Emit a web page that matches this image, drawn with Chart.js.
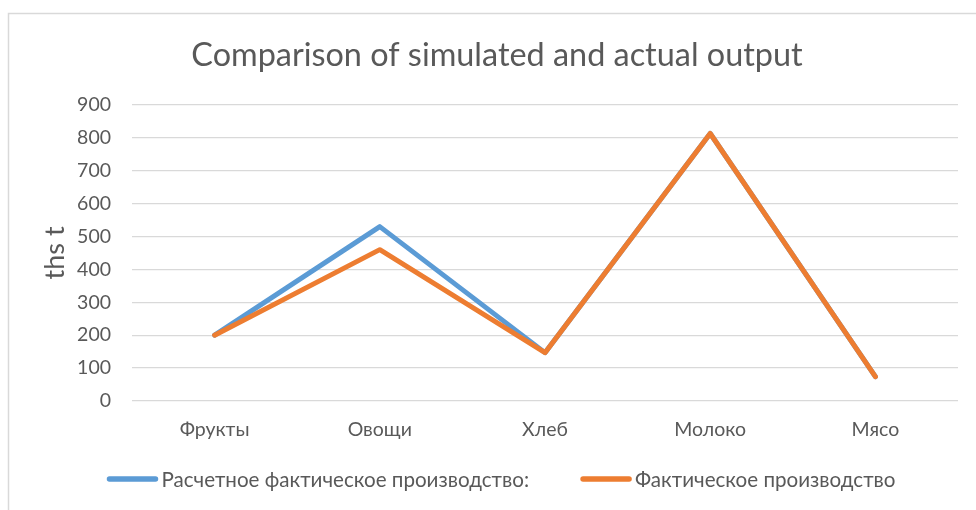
<!DOCTYPE html>
<html><head><meta charset="utf-8">
<script src="https://cdn.jsdelivr.net/npm/chart.js@4.4.1/dist/chart.umd.min.js"></script>
<style>html,body{margin:0;padding:0;background:#fff;overflow:hidden}</style>
</head><body>
<canvas id="c" width="976" height="510"></canvas>
<script>
// ---- data ----
const categories = ['Фрукты', 'Овощи', 'Хлеб', 'Молоко', 'Мясо'];
const simulatedOutput = [200, 530, 147, 813, 74];
const actualOutput = [200, 460, 147, 813, 74];
const seriesNames = ['Расчетное фактическое производство:', 'Фактическое производство'];
const yTickMin = 0, yTickMax = 900, yTickStep = 100;
const chartTitle = 'Comparison of simulated and actual output';
const yAxisTitle = 'ths t';

// ---- style ----
const FONT = 'Lato';
const TXT = '#595959';
const GRID = '#d9d9d9';

const framePlugin = {
  id: 'frame',
  beforeDraw(chart) {
    const ctx = chart.ctx;
    ctx.save();
    ctx.fillStyle = '#fff';
    ctx.fillRect(0, 0, chart.width, chart.height);
    ctx.strokeStyle = GRID;
    ctx.lineWidth = 1.5;
    ctx.beginPath();
    ctx.moveTo(8.5, chart.height + 5);
    ctx.lineTo(8.5, 13.5);
    ctx.lineTo(chart.width + 5, 13.5);
    ctx.stroke();
    ctx.restore();
  }
};

const legendPlugin = {
  id: 'lineLegend',
  afterDraw(chart) {
    const ctx = chart.ctx;
    ctx.save();
    ctx.font = '20.6px ' + FONT;
    const ds = chart.data.datasets;
    const lineLen = 52, gapLT = 3, gapItems = 51;
    const widths = ds.map(d => lineLen + gapLT + ctx.measureText(d.label).width);
    const total = widths.reduce((a, b) => a + b, 0) + gapItems * (ds.length - 1);
    let x = 501 - total / 2;
    const y = 479;
    ds.forEach((d, i) => {
      ctx.strokeStyle = d.borderColor;
      ctx.lineWidth = 5.5;
      ctx.lineCap = 'round';
      ctx.beginPath();
      ctx.moveTo(x + 3, y);
      ctx.lineTo(x + lineLen - 3, y);
      ctx.stroke();
      ctx.fillStyle = TXT;
      ctx.textBaseline = 'middle';
      ctx.textAlign = 'left';
      ctx.fillText(d.label, x + lineLen + gapLT, y + 1);
      x += widths[i] + gapItems;
    });
    ctx.restore();
  }
};

new Chart(document.getElementById('c'), {
  type: 'line',
  data: {
    labels: categories,
    datasets: [
      { label: seriesNames[0], data: simulatedOutput, borderColor: '#5B9BD5', backgroundColor: '#5B9BD5', order: 1 },
      { label: seriesNames[1], data: actualOutput, borderColor: '#ED7D31', backgroundColor: '#ED7D31', order: 0 }
    ]
  },
  options: {
    responsive: false,
    devicePixelRatio: 1,
    animation: false,
    layout: { padding: { left: 36, right: 18, top: 0, bottom: 69 } },
    elements: {
      line: { borderWidth: 5, tension: 0, borderJoinStyle: 'round', borderCapStyle: 'round', fill: false },
      point: { radius: 0, hoverRadius: 0 }
    },
    plugins: {
      legend: { display: false },
      tooltip: { enabled: false },
      title: {
        display: true, text: chartTitle, color: TXT,
        font: { family: FONT, size: 32.4, weight: 'normal', lineHeight: 1.2 },
        padding: { top: 36, bottom: 30 }
      }
    },
    scales: {
      x: {
        offset: true,
        grid: { display: false, drawTicks: false },
        border: { display: false },
        ticks: { color: TXT, padding: 17, font: { family: FONT, size: 19.5 }, maxRotation: 0 },
        afterFit(s) { s.height = 40; }
      },
      y: {
        min: yTickMin, max: yTickMax,
        grid: { color: GRID, lineWidth: 1.3, drawTicks: false },
        border: { display: false },
        ticks: { stepSize: yTickStep, color: TXT, padding: 21, font: { family: FONT, size: 19.5 } },
        title: { display: true, text: yAxisTitle, color: TXT, padding: { top: 3, bottom: 0 }, font: { family: FONT, size: 27 } },
        afterFit(s) { s.width = 96; }
      }
    }
  },
  plugins: [framePlugin, legendPlugin]
});
</script>
</body></html>
